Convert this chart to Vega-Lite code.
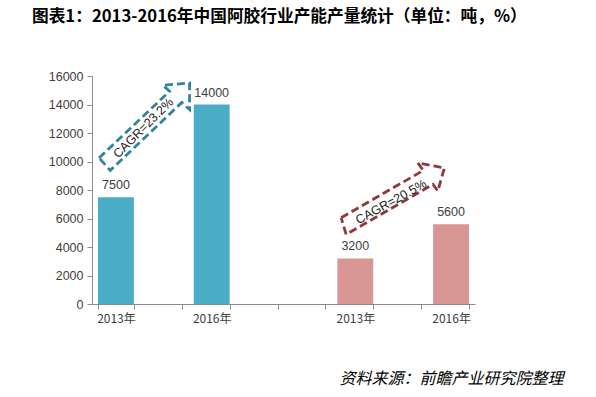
{
  "$schema": "https://vega.github.io/schema/vega-lite/v6.json",
  "width": 383,
  "height": 228,
  "autosize": "none",
  "padding": {"left": 92, "top": 76, "right": 121, "bottom": 93},
  "background": "white",
  "title": {
    "text": "图表1：2013-2016年中国阿胶行业产能产量统计（单位：吨，%）",
    "anchor": "start",
    "frame": "group",
    "dx": -60,
    "offset": 44,
    "font": "Noto Sans CJK SC",
    "fontSize": 16.7,
    "fontWeight": "bold",
    "color": "#000000"
  },
  "config": {
    "view": {"stroke": null},
    "axis": {
      "domainColor": "#8c8c8c",
      "tickColor": "#8c8c8c",
      "labelColor": "#404040",
      "labelFont": "Liberation Sans",
      "labelFontSize": 12.5,
      "grid": false
    }
  },
  "datasets": {
    "bars": [
      {"slot": "s1", "year": "2013年", "value": 7500, "series": "产能"},
      {"slot": "s3", "year": "2016年", "value": 14000, "series": "产能"},
      {"slot": "s6", "year": "2013年", "value": 3200, "series": "产量"},
      {"slot": "s8", "year": "2016年", "value": 5600, "series": "产量"}
    ],
    "arrows": [
      {"series": "产能", "i": 0, "ax": 0.146, "ay": 10253},
      {"series": "产能", "i": 1, "ax": 1.620, "ay": 14927},
      {"series": "产能", "i": 2, "ax": 1.482, "ay": 15348},
      {"series": "产能", "i": 3, "ax": 2.038, "ay": 15509},
      {"series": "产能", "i": 4, "ax": 2.038, "ay": 13637},
      {"series": "产能", "i": 5, "ax": 1.875, "ay": 14142},
      {"series": "产能", "i": 6, "ax": 0.382, "ay": 9377},
      {"series": "产能", "i": 7, "ax": 0.146, "ay": 10253},
      {"series": "产量", "i": 0, "ax": 5.205, "ay": 6048},
      {"series": "产量", "i": 1, "ax": 6.919, "ay": 9370},
      {"series": "产量", "i": 2, "ax": 6.806, "ay": 9902},
      {"series": "产量", "i": 3, "ax": 7.361, "ay": 9552},
      {"series": "产量", "i": 4, "ax": 7.223, "ay": 7919},
      {"series": "产量", "i": 5, "ax": 7.123, "ay": 8396},
      {"series": "产量", "i": 6, "ax": 5.309, "ay": 4878},
      {"series": "产量", "i": 7, "ax": 5.205, "ay": 6048}
    ],
    "cagr": [
      {"series": "产能", "label": "CAGR=23.2%", "ax": 1.071, "ay": 12355},
      {"series": "产量", "label": "CAGR=20.5%", "ax": 6.248, "ay": 7169}
    ]
  },
  "layer": [
    {
      "data": {"name": "bars"},
      "encoding": {
        "x": {
          "field": "slot",
          "type": "nominal",
          "scale": {"domain": ["s1", "s2", "s3", "s4", "s5", "s6", "s7", "s8"], "paddingInner": 0.25, "paddingOuter": 0.125},
          "axis": {
            "labelExpr": "datum.value == 's1' || datum.value == 's6' ? '2013年' : (datum.value == 's3' || datum.value == 's8' ? '2016年' : '')",
            "labelAngle": 0,
            "tickBand": "extent",
            "tickSize": 5,
            "labelPadding": 4,
            "labelFont": "Noto Sans CJK SC",
            "labelFontSize": 12,
            "title": "资料来源：前瞻产业研究院整理",
            "titleX": 471,
            "titleY": 74,
            "titleAlign": "right",
            "titleBaseline": "middle",
            "titleFont": "Noto Sans CJK SC",
            "titleFontSize": 16,
            "titleFontStyle": "italic",
            "titleFontWeight": "normal",
            "titleColor": "#000000"
          }
        },
        "y": {
          "field": "value",
          "type": "quantitative",
          "scale": {"domain": [0, 16000], "nice": false},
          "axis": {"values": [0, 2000, 4000, 6000, 8000, 10000, 12000, 14000, 16000], "format": "d", "title": null, "tickSize": 5, "labelPadding": 4}
        }
      },
      "layer": [
        {
          "mark": {"type": "bar"},
          "encoding": {
            "color": {"field": "series", "type": "nominal", "scale": {"domain": ["产能", "产量"], "range": ["#4bacc6", "#d99694"]}, "legend": null}
          }
        },
        {
          "mark": {"type": "text", "baseline": "bottom", "dy": -5, "font": "Liberation Sans", "fontSize": 12.5, "color": "#404040"},
          "encoding": {"text": {"field": "value", "type": "quantitative", "format": "d"}}
        }
      ]
    },
    {
      "encoding": {
        "x": {"field": "ax", "type": "quantitative", "scale": {"domain": [0, 8], "nice": false, "zero": false}, "axis": null},
        "y": {
          "field": "ay",
          "type": "quantitative",
          "scale": {"domain": [0, 16000], "nice": false},
          "axis": {"values": [0, 2000, 4000, 6000, 8000, 10000, 12000, 14000, 16000], "format": "d", "title": null, "tickSize": 5, "labelPadding": 4}
        }
      },
      "layer": [
        {
          "data": {"name": "arrows"},
          "mark": {"type": "line", "strokeWidth": 2.8, "strokeDash": [8, 4], "strokeJoin": "miter", "interpolate": "linear"},
          "encoding": {
            "order": {"field": "i", "type": "quantitative"},
            "detail": {"field": "series"},
            "color": {"field": "series", "type": "nominal", "scale": {"domain": ["产能", "产量"], "range": ["#31849b", "#8e3a3a"]}, "legend": null}
          }
        },
        {
          "data": {"name": "cagr"},
          "transform": [{"filter": "datum.series == '产能'"}],
          "mark": {"type": "text", "angle": -45, "align": "center", "baseline": "middle", "font": "Liberation Sans", "fontSize": 12.5, "color": "#1a1a1a"},
          "encoding": {"text": {"field": "label"}}
        },
        {
          "data": {"name": "cagr"},
          "transform": [{"filter": "datum.series == '产量'"}],
          "mark": {"type": "text", "angle": -29, "align": "center", "baseline": "middle", "font": "Liberation Sans", "fontSize": 12.5, "color": "#1a1a1a"},
          "encoding": {"text": {"field": "label"}}
        }
      ]
    }
  ],
  "resolve": {"scale": {"x": "independent", "color": "independent"}}
}
